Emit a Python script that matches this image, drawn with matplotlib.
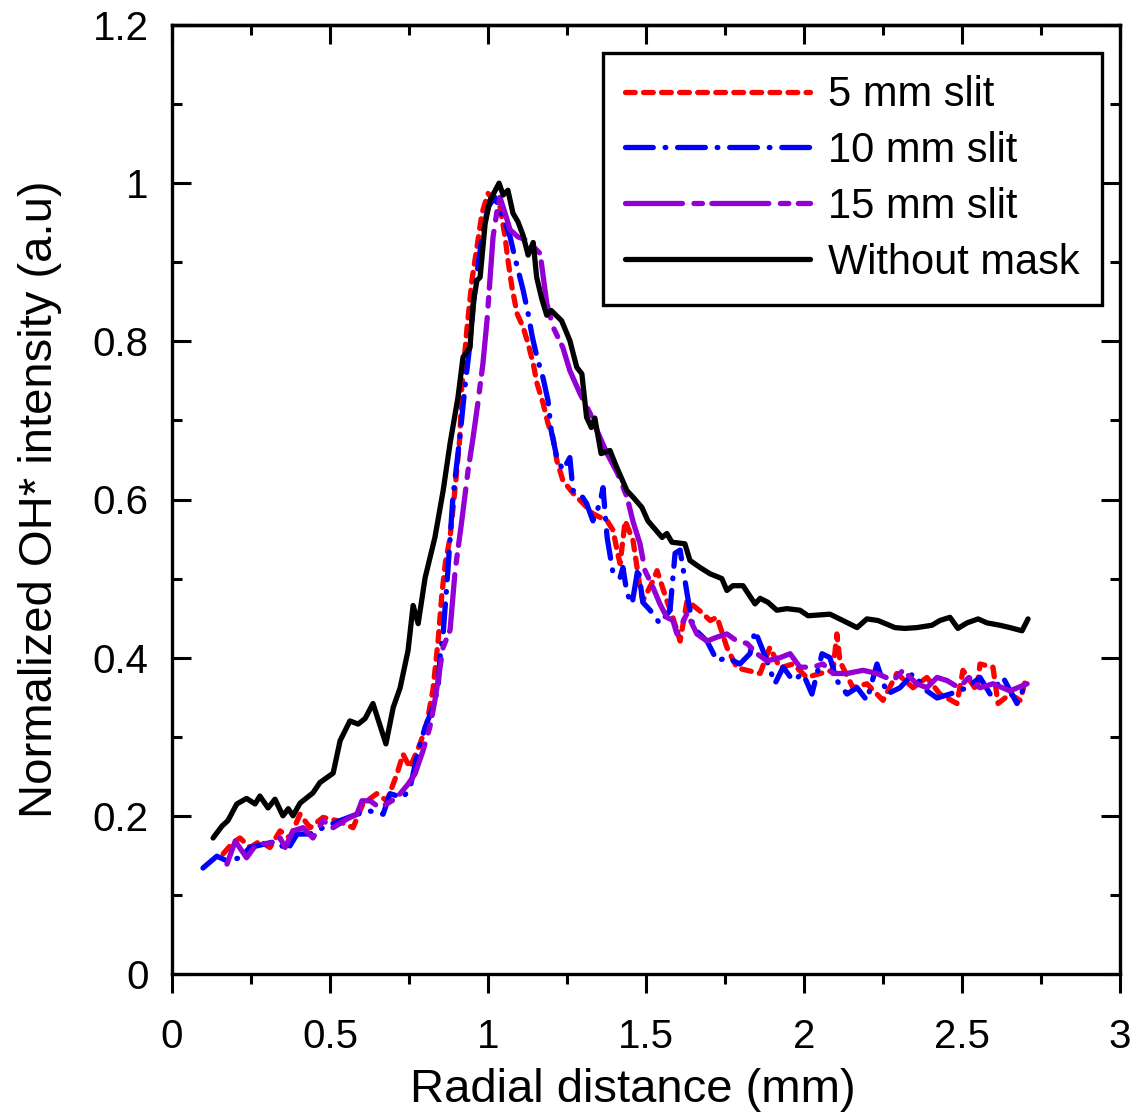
import matplotlib
matplotlib.use("Agg")
import matplotlib.pyplot as plt
from matplotlib.ticker import MultipleLocator, FixedLocator, FixedFormatter

plt.rcParams['font.family'] = ['Liberation Sans', 'DejaVu Sans']
plt.rcParams['lines.scale_dashes'] = False

# ---------------- data ----------------
black_x = [0.13, 0.158, 0.177, 0.205, 0.236, 0.263, 0.278, 0.304, 0.326, 0.351, 0.368, 0.383, 0.405, 0.446,
           0.468, 0.51, 0.532, 0.563, 0.589, 0.611, 0.636, 0.677, 0.7, 0.722, 0.747, 0.763, 0.779, 0.801,
           0.832, 0.858, 0.88, 0.905, 0.921, 0.943, 0.953, 0.965, 0.975, 0.991, 1.006, 1.035, 1.048, 1.063,
           1.079, 1.095, 1.111, 1.127, 1.143, 1.154, 1.17, 1.186, 1.2, 1.233, 1.259, 1.281, 1.297, 1.312,
           1.327, 1.338, 1.358, 1.386, 1.407, 1.44, 1.459, 1.487, 1.506, 1.551, 1.566, 1.582, 1.623, 1.639,
           1.671, 1.703, 1.74, 1.756, 1.775, 1.807, 1.845, 1.861, 1.886, 1.914, 1.946, 1.987, 2.013, 2.082,
           2.123, 2.168, 2.199, 2.234, 2.288, 2.319, 2.357, 2.405, 2.43, 2.462, 2.487, 2.516, 2.551, 2.579,
           2.62, 2.652, 2.69, 2.709]
black_y = [0.172, 0.187, 0.194, 0.215, 0.222, 0.215, 0.225, 0.21, 0.221, 0.2, 0.209, 0.2, 0.216, 0.229,
           0.242, 0.254, 0.295, 0.32, 0.316, 0.323, 0.342, 0.291, 0.337, 0.362, 0.409, 0.466, 0.443, 0.501,
           0.552, 0.611, 0.671, 0.729, 0.78, 0.792, 0.848, 0.877, 0.881, 0.949, 0.978, 1.0, 0.985, 0.991,
           0.962, 0.951, 0.934, 0.909, 0.925, 0.881, 0.854, 0.833, 0.839, 0.826, 0.801, 0.767, 0.759, 0.704,
           0.691, 0.703, 0.658, 0.662, 0.641, 0.611, 0.603, 0.59, 0.573, 0.552, 0.557, 0.546, 0.544, 0.523,
           0.514, 0.506, 0.5, 0.485, 0.491, 0.491, 0.468, 0.475, 0.47, 0.46, 0.462, 0.46, 0.453, 0.455,
           0.447, 0.438, 0.449, 0.447, 0.438, 0.437, 0.438, 0.441, 0.447, 0.451, 0.437, 0.444, 0.449, 0.444,
           0.441, 0.438, 0.434, 0.449]

red_x = [0.162, 0.19, 0.215, 0.247, 0.278, 0.31, 0.342, 0.373, 0.405, 0.437, 0.478, 0.522, 0.573, 0.604,
         0.648, 0.68, 0.712, 0.731, 0.753, 0.785, 0.806, 0.826, 0.842, 0.854, 0.865, 0.88, 0.896, 0.911,
         0.917, 0.933, 0.949, 0.965, 0.981, 1.0, 1.038, 1.054, 1.063, 1.076, 1.092, 1.111, 1.127, 1.143,
         1.155, 1.174, 1.19, 1.206, 1.218, 1.237, 1.269, 1.301, 1.332, 1.377, 1.396, 1.41, 1.418, 1.434,
         1.459, 1.481, 1.49, 1.522, 1.535, 1.566, 1.585, 1.608, 1.63, 1.671, 1.703, 1.725, 1.756, 1.788,
         1.82, 1.861, 1.892, 1.924, 1.965, 2.009, 2.051, 2.092, 2.104, 2.114, 2.155, 2.199, 2.25, 2.294,
         2.345, 2.389, 2.43, 2.484, 2.503, 2.547, 2.557, 2.598, 2.614, 2.652, 2.684, 2.703]
red_y = [0.152, 0.165, 0.172, 0.16, 0.168, 0.16, 0.181, 0.172, 0.202, 0.185, 0.198, 0.194, 0.185, 0.215,
         0.228, 0.219, 0.253, 0.278, 0.261, 0.291, 0.316, 0.36, 0.421, 0.48, 0.52, 0.552, 0.615, 0.679,
         0.742, 0.814, 0.877, 0.919, 0.962, 0.987, 0.97, 0.932, 0.903, 0.868, 0.835, 0.818, 0.797, 0.772,
         0.747, 0.722, 0.696, 0.678, 0.649, 0.624, 0.608, 0.595, 0.582, 0.573, 0.561, 0.532, 0.519, 0.573,
         0.548, 0.489, 0.472, 0.497, 0.51, 0.472, 0.451, 0.421, 0.472, 0.459, 0.447, 0.451, 0.413, 0.387,
         0.384, 0.38, 0.413, 0.387, 0.392, 0.375, 0.38, 0.384, 0.43, 0.395, 0.362, 0.367, 0.346, 0.38,
         0.362, 0.375, 0.354, 0.342, 0.384, 0.358, 0.392, 0.388, 0.342, 0.354, 0.346, 0.375]

blue_x = [0.098, 0.142, 0.174, 0.215, 0.247, 0.3, 0.332, 0.364, 0.396, 0.437, 0.478, 0.532, 0.585, 0.627,
          0.668, 0.69, 0.731, 0.753, 0.779, 0.801, 0.826, 0.842, 0.848, 0.858, 0.873, 0.889, 0.911, 0.927,
          0.943, 0.959, 0.981, 1.0, 1.022, 1.048, 1.07, 1.085, 1.101, 1.111, 1.127, 1.14, 1.155, 1.174,
          1.19, 1.2, 1.218, 1.237, 1.259, 1.269, 1.291, 1.312, 1.332, 1.354, 1.364, 1.377, 1.396, 1.418,
          1.427, 1.44, 1.456, 1.475, 1.49, 1.513, 1.544, 1.576, 1.592, 1.608, 1.63, 1.649, 1.693, 1.725,
          1.756, 1.797, 1.829, 1.845, 1.883, 1.908, 1.934, 1.965, 1.997, 2.025, 2.057, 2.082, 2.104, 2.136,
          2.168, 2.199, 2.231, 2.263, 2.304, 2.345, 2.389, 2.421, 2.462, 2.516, 2.557, 2.589, 2.63, 2.674,
          2.706]
blue_y = [0.134, 0.149, 0.143, 0.147, 0.16, 0.165, 0.168, 0.156, 0.177, 0.177, 0.185, 0.194, 0.202, 0.206,
          0.202, 0.228, 0.223, 0.235, 0.282, 0.312, 0.337, 0.362, 0.4, 0.43, 0.51, 0.603, 0.679, 0.742,
          0.797, 0.868, 0.932, 0.97, 0.982, 0.957, 0.932, 0.906, 0.881, 0.865, 0.835, 0.806, 0.78, 0.754,
          0.725, 0.687, 0.653, 0.637, 0.653, 0.611, 0.608, 0.595, 0.573, 0.595, 0.615, 0.552, 0.506, 0.501,
          0.514, 0.481, 0.468, 0.514, 0.47, 0.46, 0.443, 0.46, 0.532, 0.536, 0.481, 0.438, 0.421, 0.396,
          0.4, 0.392, 0.405, 0.434, 0.396, 0.367, 0.388, 0.371, 0.38, 0.354, 0.405, 0.4, 0.371, 0.354,
          0.362, 0.346, 0.392, 0.354, 0.362, 0.38, 0.358, 0.349, 0.354, 0.362, 0.375, 0.354, 0.375, 0.342,
          0.371]

purple_x = [0.174, 0.2, 0.236, 0.269, 0.31, 0.342, 0.358, 0.383, 0.415, 0.446, 0.478, 0.51, 0.554, 0.585,
            0.601, 0.627, 0.658, 0.696, 0.722, 0.747, 0.769, 0.794, 0.816, 0.832, 0.848, 0.858, 0.88, 0.896,
            0.917, 0.937, 0.953, 0.968, 0.984, 0.997, 1.006, 1.016, 1.029, 1.038, 1.054, 1.07, 1.095, 1.123,
            1.165, 1.186, 1.206, 1.237, 1.259, 1.291, 1.323, 1.345, 1.377, 1.41, 1.44, 1.459, 1.481, 1.497,
            1.522, 1.544, 1.566, 1.585, 1.598, 1.63, 1.661, 1.693, 1.725, 1.756, 1.788, 1.82, 1.851, 1.883,
            1.924, 1.956, 1.987, 2.028, 2.06, 2.092, 2.136, 2.187, 2.231, 2.282, 2.313, 2.357, 2.389, 2.421,
            2.453, 2.49, 2.522, 2.557, 2.598, 2.652, 2.706]
purple_y = [0.139, 0.168, 0.147, 0.165, 0.165, 0.172, 0.16, 0.181, 0.185, 0.172, 0.194, 0.185, 0.196, 0.202,
            0.219, 0.219, 0.21, 0.219, 0.228, 0.24, 0.253, 0.282, 0.312, 0.346, 0.387, 0.413, 0.435, 0.51,
            0.573, 0.637, 0.679, 0.722, 0.772, 0.827, 0.877, 0.932, 0.966, 0.982, 0.962, 0.941, 0.932, 0.928,
            0.911, 0.848, 0.818, 0.792, 0.763, 0.734, 0.709, 0.687, 0.658, 0.633, 0.603, 0.572, 0.544, 0.51,
            0.489, 0.468, 0.451, 0.447, 0.43, 0.456, 0.43, 0.421, 0.426, 0.43, 0.421, 0.418, 0.405, 0.396,
            0.4, 0.405, 0.388, 0.388, 0.392, 0.38, 0.38, 0.384, 0.38, 0.371, 0.384, 0.367, 0.362, 0.375,
            0.371, 0.362, 0.375, 0.362, 0.367, 0.358, 0.367]

labels = ["5 mm slit", "10 mm slit", "15 mm slit", "Without mask"]
x_ticks = [0, 0.5, 1, 1.5, 2, 2.5, 3]
x_ticklabels = ["0", "0.5", "1", "1.5", "2", "2.5", "3"]
y_ticks = [0, 0.2, 0.4, 0.6, 0.8, 1.0, 1.2]
y_ticklabels = ["0", "0.2", "0.4", "0.6", "0.8", "1", "1.2"]

# ---------------- figure ----------------
fig = plt.figure(figsize=(11.42, 11.15), dpi=100)
ax = fig.add_axes([172/1142, 1 - 974/1115, 948/1142, 949/1115])

lw = 3.8
ax.plot(red_x, red_y, color='#ff0000', lw=lw, linestyle=(0, (7, 6)), dash_capstyle='round',
        solid_capstyle='round', label=labels[0])
ax.plot(blue_x, blue_y, color='#0000ff', lw=lw, linestyle=(0, (20, 8.5, 0.5, 8.5)), dash_capstyle='round',
        label=labels[1])
ax.plot(purple_x, purple_y, color='#9400d3', lw=lw, linestyle=(0, (41, 8.3, 6.1, 6.8)), dash_capstyle='round',
        label=labels[2])
ax.plot(black_x, black_y, color='black', lw=lw, solid_capstyle='round', solid_joinstyle='round',
        label=labels[3])

ax.set_xlim(0, 3)
ax.set_ylim(0, 1.2)
ax.xaxis.set_major_locator(FixedLocator(x_ticks))
ax.xaxis.set_major_formatter(FixedFormatter(x_ticklabels))
ax.yaxis.set_major_locator(FixedLocator(y_ticks))
ax.yaxis.set_major_formatter(FixedFormatter(y_ticklabels))
ax.xaxis.set_minor_locator(MultipleLocator(0.25))
ax.yaxis.set_minor_locator(MultipleLocator(0.1))

for s in ax.spines.values():
    s.set_linewidth(2.4)

ax.tick_params(axis='x', which='major', direction='out', length=14, width=2.2, labelsize=29, pad=18,
               top=False, bottom=True)
ax.tick_params(axis='x', which='minor', direction='out', length=7, width=2.2, top=False, bottom=True)
ax.tick_params(axis='y', which='major', direction='in', length=14, width=2.2, labelsize=29, pad=17,
               left=True, right=True)
ax.tick_params(axis='y', which='minor', direction='in', length=7, width=2.2, left=True, right=True)

sec = ax.secondary_xaxis('top')
sec.set_xticks(x_ticks)
sec.xaxis.set_minor_locator(MultipleLocator(0.25))
sec.tick_params(axis='x', which='major', direction='in', length=14, width=2.2, labeltop=False)
sec.tick_params(axis='x', which='minor', direction='in', length=7, width=2.2)
sec.spines['top'].set_linewidth(2.4)

ax.set_xlabel("Radial distance (mm)", fontsize=34, labelpad=8)
ax.xaxis.label.set_x((633 - 172) / 948)
ax.set_ylabel("Normalized OH* intensity (a.u)", fontsize=34, labelpad=22)

leg = ax.legend(loc='upper right', bbox_to_anchor=((1102-172)/948, (974-53)/949), borderaxespad=0,
                fontsize=30, handlelength=4.45, handletextpad=0.43, labelspacing=0.38,
                fancybox=False, framealpha=1, edgecolor='black', borderpad=0.53)
leg.get_frame().set_linewidth(2.4)

fig.savefig("out.png", dpi=100)
